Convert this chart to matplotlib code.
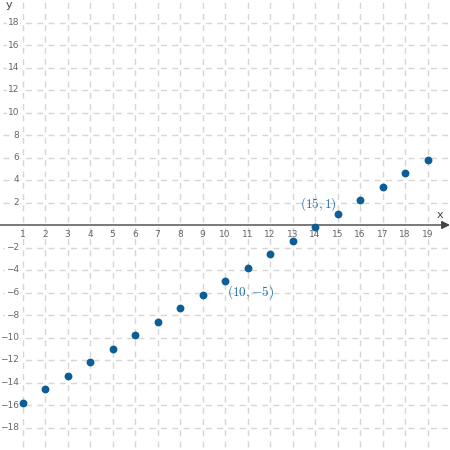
import matplotlib
matplotlib.use("Agg")
import matplotlib.pyplot as plt

plt.rcParams['mathtext.fontset'] = 'cm'

xs = [1, 2, 3, 4, 5, 6, 7, 8, 9, 10, 11, 12, 13, 14, 15, 16, 17, 18, 19]
ys = [-15.8, -14.6, -13.4, -12.2, -11.0, -9.8, -8.6, -7.4, -6.2, -5.0,
      -3.8, -2.6, -1.4, -0.2, 1.0, 2.2, 3.4, 4.6, 5.8]
xticks = list(range(1, 20))
yticks = [v for v in range(-18, 19, 2) if v != 0]
labels = [(15, 1, r'$(15,1)$'), (10, -5, r'$(10,{-}5)$')]

blue = '#0b5e97'
grey = '#666666'
dash = (5.95, (4.3, 3.8))

fig = plt.figure(figsize=(4.5, 4.5), dpi=100)
ax = fig.add_axes([0, 0, 1, 1])
ax.set_xlim(0, 20)
ax.set_ylim(-20, 20)
ax.axis('off')

# dashed grid
for x in xticks:
    ax.axvline(x, color='#d6d6d6', lw=1, ls=dash, zorder=0)
for y in yticks:
    ax.axhline(y, color='#d6d6d6', lw=1, ls=dash, zorder=0)

# x axis with arrow
ax.annotate('', xy=(20, 0), xytext=(0, 0),
            arrowprops=dict(arrowstyle='-|>', color='#444444', lw=1,
                            mutation_scale=12, shrinkA=0, shrinkB=0))
ax.text(19.55, 0.4, 'x', color='#444444', fontsize=8, ha='center', va='bottom')
ax.text(0.25, 19.6, 'y', color='#444444', fontsize=8, ha='left', va='center')

for x in xticks:
    ax.text(x, -0.45, str(x), color=grey, fontsize=6.5, ha='center', va='top')
for y in yticks:
    lab = str(y).replace('-', '\u2212')
    ax.text(0.85, y, lab, color=grey, fontsize=6.5, ha='right', va='center',
            bbox=dict(facecolor='white', edgecolor='none', pad=0.6))

ax.scatter(xs, ys, s=32, color=blue, zorder=5, linewidths=0)

ax.text(labels[0][0] - 0.05, labels[0][1] + 0.1, labels[0][2], color='#1f6fa5',
        fontsize=9.5, ha='right', va='bottom')
ax.text(labels[1][0] + 0.1, labels[1][1] - 0.2, labels[1][2], color='#1f6fa5',
        fontsize=9.5, ha='left', va='top')

fig.savefig('out.png', dpi=100)
